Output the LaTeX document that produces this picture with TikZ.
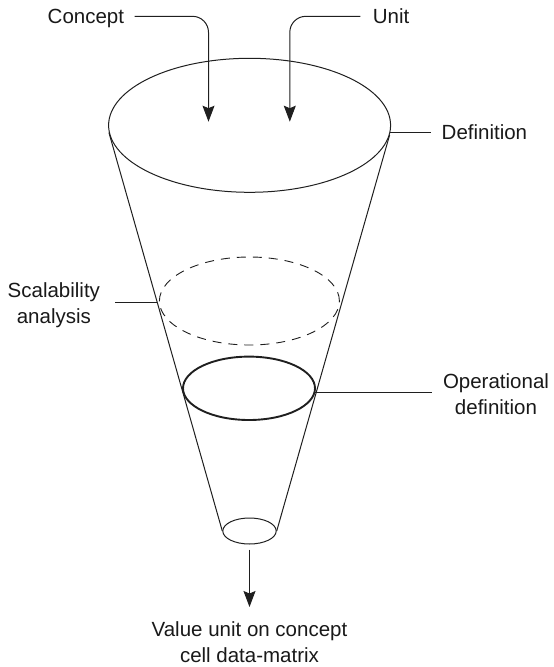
\documentclass[tikz,border=0pt]{standalone}
\usepackage{fontspec}
\setmainfont{Liberation Sans}
\usetikzlibrary{arrows.meta,calc,shapes.geometric}
\begin{document}
\begin{tikzpicture}[x=1pt,y=-1pt,
  lbl/.style={inner sep=0pt, outer sep=0pt, font=\fontsize{20.5}{26}\selectfont, text=black!90},
  lbl1/.style={lbl, text height=14.7pt, text depth=0pt},
  lbl2/.style={lbl, align=center},
  ln/.style={line width=1pt, draw=black!88},
  arr/.style={ln, -{Stealth[length=16pt,width=12pt,inset=2.5pt]}},
  ell/.style={ellipse, draw=black!88, line width=1pt, inner sep=0pt},
]
\useasboundingbox (0,0) rectangle (554,667);

% ellipses
\node[ell, minimum width=282pt, minimum height=134pt] (topel) at (249.6,125.3) {};
\node[ell, dash pattern=on 9pt off 7pt, line width=0.9pt, minimum width=180pt, minimum height=88pt] (dashel) at (249.4,301) {};
\node[ell, line width=1.9pt, minimum width=132pt, minimum height=63.4pt] (opel) at (249,388.3) {};
\node[ell, minimum width=53.4pt, minimum height=26pt] (small) at (249.5,531) {};

% cone sides
\draw[ln] (topel.183.7) -- (small.west);
\draw[ln] (topel.356.3) -- (small.east);

% labels
\node[lbl1, anchor=west] (concept) at (47.7,16.3) {Concept};
\node[lbl1, anchor=west] (unit) at (372.8,16.3) {Unit};
\node[lbl1, anchor=west] (def) at (441.7,132) {Definition};
\node[lbl2, anchor=east] (scal) at (100,304.8) {\strut Scalability\\\strut analysis};
\node[lbl2, anchor=west] (optxt) at (443,395.8) {\strut Operational\\\strut definition};
\node[lbl2] (val) at (249.5,644.5) {\strut Value unit on concept\\\strut cell data-matrix};

% arrow tips into the top ellipse
\coordinate (ctip) at (208.5,121.7);
\coordinate (utip) at (289.8,121.7);
\draw[arr, rounded corners=16pt] ($(concept.east)+(10.5,0)$) -| (ctip);
\draw[arr, rounded corners=16pt] ($(unit.west)+(-12.4,0)$) -| (utip);

% label connectors
\draw[ln] (topel.357.3) -- ($(topel.357.3 -| def.west)+(-11,0)$);
\coordinate (sp) at ($(topel.183.7)!0.426!(small.west)$);
\draw[ln] (sp) -- ($(sp -| scal.east)+(15,0)$);
\draw[ln] (opel.356.2) -- ($(opel.356.2 -| optxt.west)+(-11.3,0)$);

% output arrow
\draw[arr] ($(small.south)+(0,5)$) -- ($(val.north)+(0,-11.5)$);
\end{tikzpicture}
\end{document}
